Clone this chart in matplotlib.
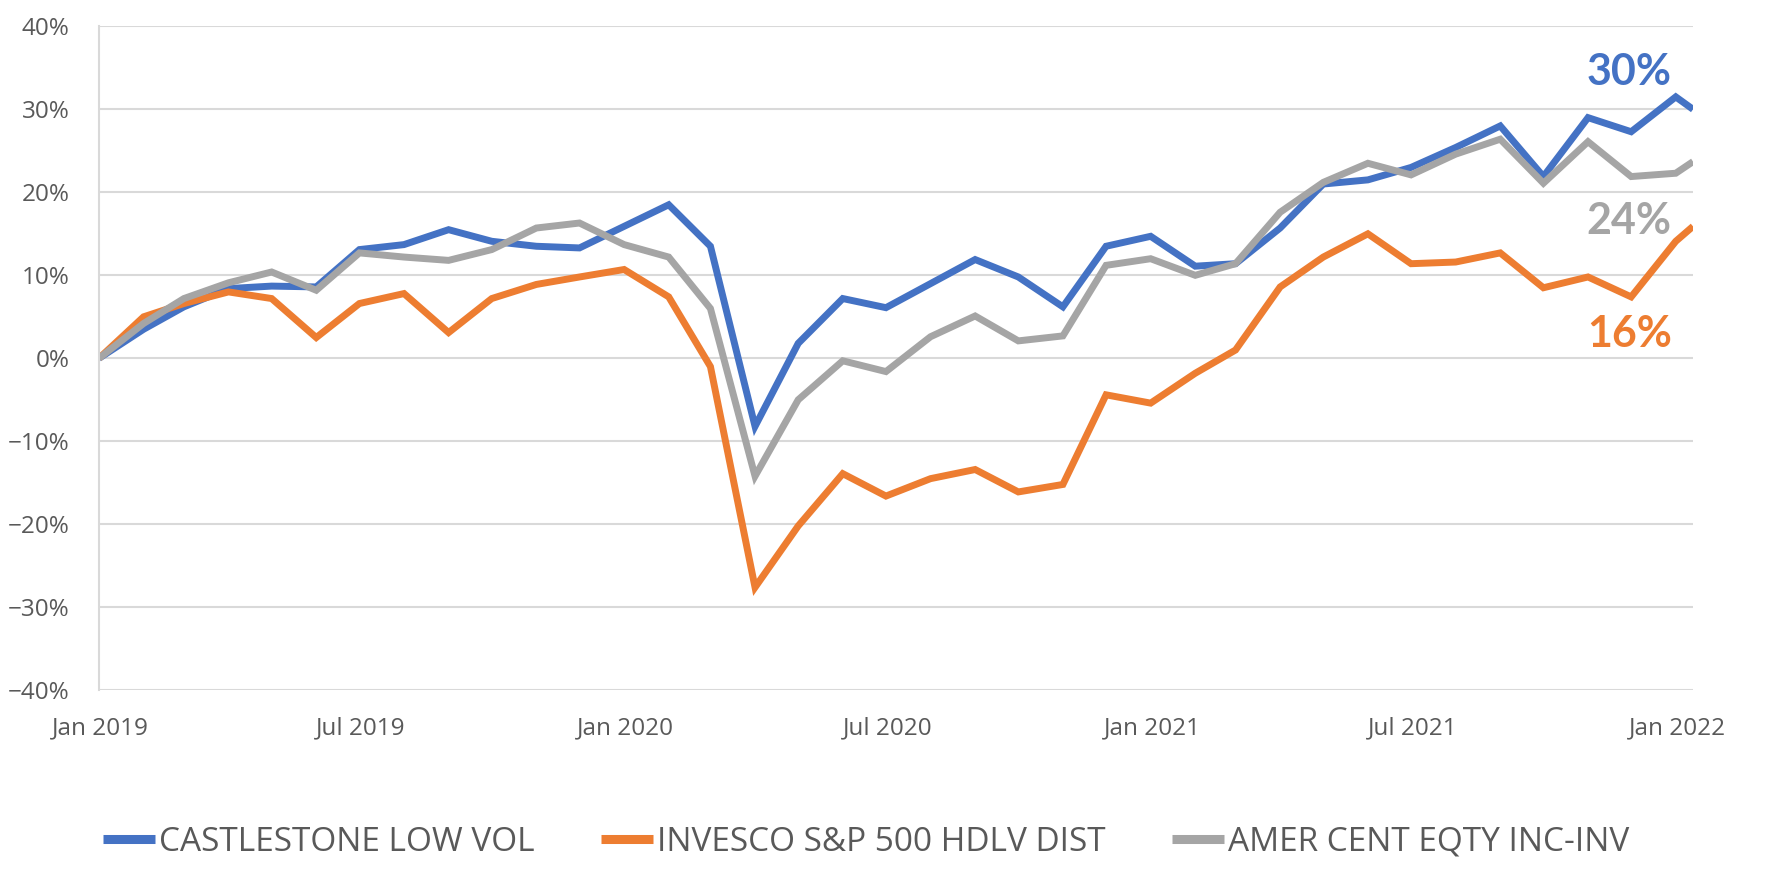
import pandas as pd
import matplotlib
matplotlib.use("Agg")
import matplotlib.pyplot as plt
import matplotlib.dates as mdates
from matplotlib.ticker import PercentFormatter, MultipleLocator

# --- data (cumulative return, %) ---
dates = (
    [pd.Timestamp("2018-12-31")]
    + list(pd.date_range("2019-01-31", "2021-12-31", freq="ME"))
    + [pd.Timestamp("2022-01-12")]
)

castlestone = [0, 3.5, 6.2, 8.4, 8.7, 8.6, 13.1, 13.7, 15.5, 14.1, 13.5, 13.3,
               15.9, 18.5, 13.5, -8.2, 1.8, 7.2, 6.1, 9.0, 11.9, 9.8, 6.2, 13.5,
               14.7, 11.1, 11.4, 15.7, 21.0, 21.5, 23.0, 25.4, 28.0, 21.9, 29.0,
               27.3, 31.5, 30.0]
invesco = [0, 5.0, 6.6, 8.0, 7.2, 2.5, 6.6, 7.8, 3.1, 7.2, 8.9, 9.8,
           10.7, 7.4, -1.0, -27.6, -20.2, -13.9, -16.6, -14.5, -13.4, -16.1, -15.2, -4.4,
           -5.4, -1.8, 1.0, 8.6, 12.2, 15.0, 11.4, 11.6, 12.7, 8.5, 9.8,
           7.4, 14.1, 15.9]
amer_cent = [0, 4.2, 7.2, 9.1, 10.4, 8.2, 12.7, 12.2, 11.8, 13.1, 15.7, 16.3,
             13.7, 12.2, 6.0, -14.2, -5.0, -0.3, -1.6, 2.6, 5.1, 2.1, 2.7, 11.2,
             12.0, 10.0, 11.4, 17.6, 21.2, 23.5, 22.1, 24.6, 26.4, 21.1, 26.1,
             21.9, 22.3, 23.7]

names = ["CASTLESTONE LOW VOL", "INVESCO S&P 500 HDLV DIST", "AMER CENT EQTY INC-INV"]
colors = ["#4472C4", "#ED7D31", "#A5A5A5"]
end_labels = ["30%", "16%", "24%"]

plt.rcParams["font.family"] = ["Open Sans", "DejaVu Sans"]
txt_color = "#595959"
grid_color = "#D9D9D9"

fig = plt.figure(figsize=(17.68, 8.72), dpi=100)
ax = fig.add_axes([0.056, 0.2084, 0.9016, 0.7614])

for series, name, col in zip([castlestone, invesco, amer_cent], names, colors):
    ax.plot(dates, series, color=col, lw=5, label=name,
            solid_joinstyle="miter", solid_capstyle="butt")

ax.set_xlim(dates[0], dates[-1])
ax.set_ylim(-40, 40)
ax.yaxis.set_major_locator(MultipleLocator(10))
ax.yaxis.set_major_formatter(PercentFormatter(decimals=0))
ax.xaxis.set_major_locator(mdates.MonthLocator(bymonth=[1, 7], bymonthday=1))
ax.xaxis.set_major_formatter(mdates.DateFormatter("%b %Y"))

ax.grid(axis="y", color=grid_color, lw=1.5)
ax.set_axisbelow(True)
for side in ["top", "right", "bottom"]:
    ax.spines[side].set_visible(False)
ax.spines["left"].set_color(grid_color)
ax.spines["left"].set_linewidth(1.5)

ax.tick_params(axis="y", length=0, pad=21, labelsize=17.5, labelcolor=txt_color)
ax.tick_params(axis="x", length=0, pad=19, labelsize=17.5, labelcolor=txt_color)

# end-of-period labels
trans = ax.get_yaxis_transform()
lab_font = ["Lato", "DejaVu Sans"]
ax.text(0.96, 34.5, end_labels[0], transform=trans, color=colors[0], fontsize=31,
        fontweight="bold", ha="center", va="center", family=lab_font)
ax.text(0.96, 2.9, end_labels[1], transform=trans, color=colors[1], fontsize=31,
        fontweight="bold", ha="center", va="center", family=lab_font)
ax.text(0.96, 16.6, end_labels[2], transform=trans, color=colors[2], fontsize=31,
        fontweight="bold", ha="center", va="center", family=lab_font)

leg = fig.legend(loc="center", bbox_to_anchor=(0.49, 0.034), ncol=3, frameon=False,
                 fontsize=24, handlelength=1.55, handletextpad=0.12, columnspacing=2.0)
for t in leg.get_texts():
    t.set_color(txt_color)
for h in leg.get_lines():
    h.set_linewidth(6.5)

fig.savefig("out.png", dpi=100)
